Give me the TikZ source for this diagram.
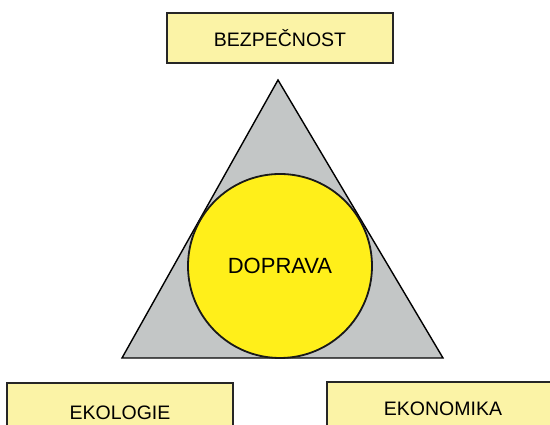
\documentclass[tikz,border=0pt]{standalone}
\usepackage{fontspec}
\setmainfont{Liberation Sans}
\usepackage{tikz}
\usepackage{xcolor}
\definecolor{pale-yellow}{HTML}{FBF3A6}
\definecolor{sun-yellow}{HTML}{FFEF1A}
\definecolor{tri-gray}{HTML}{C3C6C6}
\tikzset{
    label-box/.style = {draw=black!85, fill=pale-yellow, line width=1.8pt, rectangle, minimum width=226pt, minimum height=50pt, font=\fontsize{19.5}{22}\selectfont},
    core-circle/.style = {draw=black!90, fill=sun-yellow, line width=1.8pt, circle, minimum size=184pt, inner sep=0pt, font=\fontsize{22}{24}\selectfont},
}

\begin{document}
\begin{tikzpicture}[x=1pt, y=1pt]
\useasboundingbox (0,0) rectangle (550,425);
\clip (0,0) rectangle (550,425);
\fill[white] (0,0) rectangle (550,425);
% triangle
\coordinate (top) at (278,345);
\coordinate (left) at (122,67);
\coordinate (right) at (443,67);
\draw[fill=tri-gray, line width=1.4pt, line join=miter] (top) -- (left) -- (right) -- cycle;
\node[core-circle] (doprava) at (280,159) {DOPRAVA};
% the three boxes
\node[label-box] (bezpecnost) at (280,387) {BEZPEČNOST};
\node[label-box, minimum height=60pt] (ekologie) at (120,12) {EKOLOGIE};
\node[label-box, minimum width=232pt, minimum height=54pt] (ekonomika) at (443,16) {EKONOMIKA};
\end{tikzpicture}
\end{document}
